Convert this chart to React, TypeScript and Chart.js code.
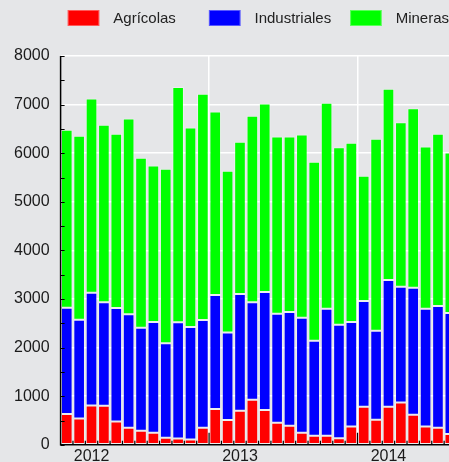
import React, { useEffect, useRef } from "react";
import { Chart, registerables } from "chart.js";

Chart.register(...registerables);

const years = ["2012", "2013", "2014"];
const monthNames = ["01", "02", "03", "04", "05", "06", "07", "08", "09", "10", "11", "12"];
const categories = years.flatMap((y) => monthNames.map((m) => `${y}-${m}`));

const seriesNames = ["Agrícolas", "Industriales", "Mineras"];
const seriesColors = ["#ff0000", "#0000ff", "#00ff00"];

const agricolas = [632, 542, 810, 803, 480, 350, 288, 247, 144, 130, 110, 350, 735, 508, 700, 927, 714, 453, 391, 247, 185, 185, 137, 378, 783, 515, 783, 872, 618, 378, 350, 220];
const industriales = [2190, 2033, 2321, 2128, 2335, 2334, 2122, 2280, 1943, 2390, 2314, 2218, 2348, 1805, 2404, 2004, 2431, 2245, 2342, 2369, 1957, 2616, 2335, 2149, 2176, 1833, 2609, 2382, 2616, 2423, 2507, 2492];
const mineras = [3660, 3783, 3996, 3654, 3585, 4031, 3495, 3220, 3591, 4840, 4105, 4655, 3776, 3324, 3131, 3839, 3879, 3646, 3611, 3769, 3680, 4237, 3652, 3687, 2575, 3948, 3934, 3385, 3693, 3337, 3543, 3302];

const yTicks = [0, 1000, 2000, 3000, 4000, 5000, 6000, 7000, 8000];
const yearLabelMonth = 2;

const BG = "#e5e6e8";
const FONT = "'Liberation Sans', Arial, sans-serif";

const bgPlugin = {
  id: "bgFill",
  beforeDraw(chart: any) {
    const { ctx, width, height } = chart;
    ctx.save();
    ctx.fillStyle = BG;
    ctx.fillRect(0, 0, width, height);
    ctx.restore();
  },
};

const axesPlugin = {
  id: "innerAxes",
  afterDatasetsDraw(chart: any) {
    const { ctx, chartArea: a, scales } = chart;
    const x = scales.x;
    const y = scales.y;
    ctx.save();
    ctx.strokeStyle = "#000";
    ctx.lineWidth = 1.5;
    ctx.beginPath();
    ctx.moveTo(a.left, a.top);
    ctx.lineTo(a.left, a.bottom);
    ctx.lineTo(a.right, a.bottom);
    ctx.stroke();
    ctx.lineWidth = 1.2;
    ctx.beginPath();
    for (let v = yTicks[0]; v <= yTicks[yTicks.length - 1]; v += 500) {
      const py = Math.round(y.getPixelForValue(v)) + 0.5;
      ctx.moveTo(a.left, py);
      ctx.lineTo(a.left + 4, py);
    }
    const step = x.getPixelForValue(1) - x.getPixelForValue(0);
    for (let i = 1; i < categories.length; i++) {
      const px = x.getPixelForValue(i) - step / 2;
      const len = i % 12 === 0 ? 12 : 4;
      ctx.moveTo(px, a.bottom);
      ctx.lineTo(px, a.bottom - len);
    }
    ctx.stroke();
    ctx.restore();
  },
};

const legendPlugin = {
  id: "customLegend",
  afterDraw(chart: any) {
    const { ctx } = chart;
    ctx.save();
    ctx.font = `15px ${FONT}`;
    ctx.textBaseline = "middle";
    ctx.textAlign = "left";
    seriesNames.forEach((name, k) => {
      const bx = 67.7 + k * 141.2;
      ctx.fillStyle = seriesColors[k];
      ctx.fillRect(bx, 10, 31.6, 16);
      ctx.strokeStyle = "rgba(255,255,255,0.35)";
      ctx.lineWidth = 1;
      ctx.strokeRect(bx + 0.5, 10.5, 30.6, 15);
      ctx.fillStyle = "#222";
      ctx.fillText(name, bx + 45.6, 18.5);
    });
    ctx.restore();
  },
};

export default function App() {
  const ref = useRef<HTMLCanvasElement>(null);
  useEffect(() => {
    if (!ref.current) return;
    const values = [agricolas, industriales, mineras];
    const chart = new Chart(ref.current, {
      type: "bar",
      data: {
        labels: categories,
        datasets: seriesNames.map((name, k) => ({
          label: name,
          data: values[k],
          backgroundColor: seriesColors[k],
          borderColor: "rgba(255,255,255,0.35)",
          borderWidth: 1,
          borderSkipped: false,
          barPercentage: 0.94,
          categoryPercentage: 1,
        })),
      },
      options: {
        responsive: false,
        animation: false,
        layout: { padding: { left: 3, top: 56, right: 1, bottom: 0 } },
        plugins: { legend: { display: false }, tooltip: { enabled: false } },
        scales: {
          x: {
            stacked: true,
            offset: true,
            border: { display: false },
            grid: {
              offset: true,
              drawTicks: false,
              lineWidth: 1.5,
              color: (c: any) => (c.index % 12 === 0 && c.index > 0 ? "#ffffff" : "rgba(0,0,0,0)"),
            },
            ticks: {
              autoSkip: false,
              maxRotation: 0,
              minRotation: 0,
              padding: 2,
              color: "#1a1a1a",
              font: { family: FONT, size: 16 },
              callback: (_v: any, i: number) => (i % 12 === yearLabelMonth ? years[Math.floor(i / 12)] : ""),
            },
          },
          y: {
            stacked: true,
            min: 0,
            max: 8000,
            border: { display: false },
            grid: { drawTicks: false, color: "#ffffff", lineWidth: 1.5 },
            ticks: {
              stepSize: 1000,
              padding: 11,
              color: "#1a1a1a",
              font: { family: FONT, size: 16 },
              callback: (v: any) => String(v),
            },
          },
        },
      },
      plugins: [bgPlugin, axesPlugin, legendPlugin],
    });
    return () => chart.destroy();
  }, []);
  return (
    <div style={{ position: "fixed", left: 0, top: 0, width: "100vw", height: "100vh", overflow: "hidden", background: BG }}>
      <canvas ref={ref} width={507} height={468} style={{ display: "block" }} />
    </div>
  );
}
